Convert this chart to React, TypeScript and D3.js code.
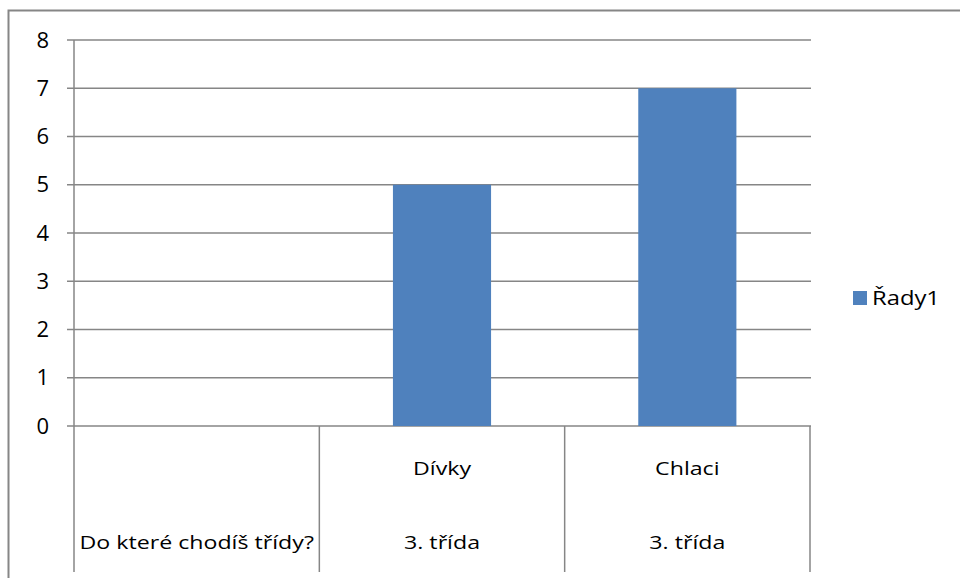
import React from "react";
import * as d3 from "d3";

const categories = ["", "Dívky", "Chlaci"];
const groupLabels = ["Do které chodíš třídy?", "3. třída", "3. třída"];
const values = [0, 5, 7];
const yTicks = [0, 1, 2, 3, 4, 5, 6, 7, 8];
const seriesName = "Řady1";

const W = 960;
const H = 578;
const plot = { left: 74, right: 810, top: 40, bottom: 426 };
const font = "'Open Sans', 'Noto Sans', sans-serif";
const gridColor = "#868686";
const barColor = "#4F81BD";
const SX = 1.22;

function Label(props: { x: number; y: number; anchor?: string; size: number; children: React.ReactNode }) {
  return (
    <text
      transform={`translate(${props.x},${props.y}) scale(${SX},1)`}
      textAnchor={props.anchor || "middle"}
      fontSize={props.size}
      fill="#000"
    >
      {props.children}
    </text>
  );
}

export default function App() {
  const x = d3
    .scaleBand<string>()
    .domain(categories.map((_, i) => String(i)))
    .range([plot.left, plot.right])
    .paddingInner(0)
    .paddingOuter(0);
  const y = d3.scaleLinear().domain([0, 8]).range([plot.bottom, plot.top]);
  const bw = x.bandwidth();
  const barW = bw * 0.4;

  return (
    <svg
      width={W}
      height={H}
      style={{ position: "absolute", left: 0, top: 0, background: "#fff" }}
      fontFamily={font}
    >
      <rect x={0} y={0} width={W} height={H} fill="#fff" />
      {/* outer border */}
      <path d={`M8.5,${H + 5} V10.5 H${W + 5}`} fill="none" stroke={gridColor} strokeWidth={2} />
      {/* gridlines + ticks */}
      {yTicks.map((t) => (
        <g key={t}>
          <line x1={67} x2={plot.right + 1} y1={y(t)} y2={y(t)} stroke={gridColor} strokeWidth={1.5} />
          <text x={49} y={y(t) + 7.5} textAnchor="end" fontSize={22} fill="#000">
            {t}
          </text>
        </g>
      ))}
      {/* y axis */}
      <line x1={plot.left} x2={plot.left} y1={plot.top} y2={plot.bottom} stroke={gridColor} strokeWidth={1.5} />
      {/* bars */}
      {values.map((v, i) =>
        v > 0 ? (
          <rect
            key={i}
            x={(x(String(i)) as number) + (bw - barW) / 2}
            y={y(v)}
            width={barW}
            height={y(0) - y(v)}
            fill={barColor}
          />
        ) : null
      )}
      {/* category separators */}
      {[...categories.map((_, i) => x(String(i)) as number), plot.right].map((px, i) => (
        <line key={i} x1={px} x2={px} y1={plot.bottom} y2={572} stroke={gridColor} strokeWidth={1.5} />
      ))}
      {/* category labels */}
      {categories.map((c, i) => (
        <Label key={"c" + i} x={(x(String(i)) as number) + bw / 2} y={475} size={19}>
          {c}
        </Label>
      ))}
      {groupLabels.map((g, i) => (
        <Label key={"g" + i} x={(x(String(i)) as number) + bw / 2} y={548.5} size={19}>
          {g}
        </Label>
      ))}
      {/* legend */}
      <rect x={853} y={291} width={14} height={14} fill={barColor} />
      <Label x={872} y={305} size={19.5} anchor="start">
        {seriesName}
      </Label>
    </svg>
  );
}
